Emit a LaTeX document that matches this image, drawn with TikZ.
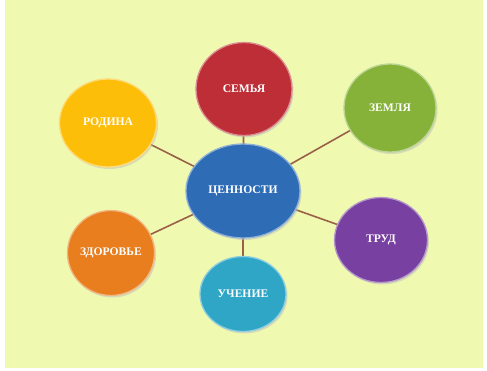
\documentclass[tikz,border=0pt]{standalone}
\usepackage{fontspec}
\setmainfont{Liberation Serif}
\usetikzlibrary{shapes.geometric,shadows}
\definecolor{bg}{HTML}{EFF9B0}
\definecolor{conn}{HTML}{9A6048}
\definecolor{cred}{HTML}{BE2E36}
\definecolor{cgreen}{HTML}{86B23A}
\definecolor{cyellow}{HTML}{FDBE0A}
\definecolor{corange}{HTML}{E87E1E}
\definecolor{ccyan}{HTML}{2FA6C6}
\definecolor{cpurple}{HTML}{7840A0}
\definecolor{cblue}{HTML}{2E6DB6}
\tikzset{
  ball/.style n args={3}{ellipse, inner sep=0pt, minimum width=#2pt, minimum height=#3pt,
    fill=#1, draw=#1!55!white, line width=1.3pt,
    drop shadow={shadow xshift=1.5pt, shadow yshift=-2pt, fill=black!25, opacity=0.5},
    text=white, font=\bfseries\fontsize{11.6}{13}\selectfont},
  link/.style={draw=conn, line width=1.6pt}
}
\begin{document}
\begin{tikzpicture}[x=1pt,y=-1pt]
\fill[white] (0,0) rectangle (487,371);
\fill[bg] (5,0) rectangle (483,368);
\useasboundingbox (0,0) rectangle (487,371);
\coordinate (pc) at (243,191);
\coordinate (ps) at (244,89);
\coordinate (pz) at (390,108);
\coordinate (pr) at (108,123);
\coordinate (pd) at (111,253);
\coordinate (pu) at (243,294);
\coordinate (pt) at (381,240);
\draw[link] (pc) -- (ps);
\draw[link] (pc) -- (pz);
\draw[link] (pc) -- (pr);
\draw[link] (pc) -- (pd);
\draw[link] (pc) -- (pu);
\draw[link] (pc) -- (pt);
\node[ball={cred}{96}{93}] (s) at (ps) {СЕМЬЯ};
\node[ball={cgreen}{92}{88}] (z) at (pz) {ЗЕМЛЯ};
\node[ball={cyellow}{97}{88}] (r) at (pr) {РОДИНА};
\node[ball={corange}{87}{85}] (d) at (pd) {ЗДОРОВЬЕ};
\node[ball={ccyan}{86}{75}] (u) at (pu) {УЧЕНИЕ};
\node[ball={cpurple}{93}{85}] (t) at (pt) {ТРУД};
\node[ball={cblue}{114}{94}] (c) at (pc) {ЦЕННОСТИ};
\end{tikzpicture}
\end{document}
